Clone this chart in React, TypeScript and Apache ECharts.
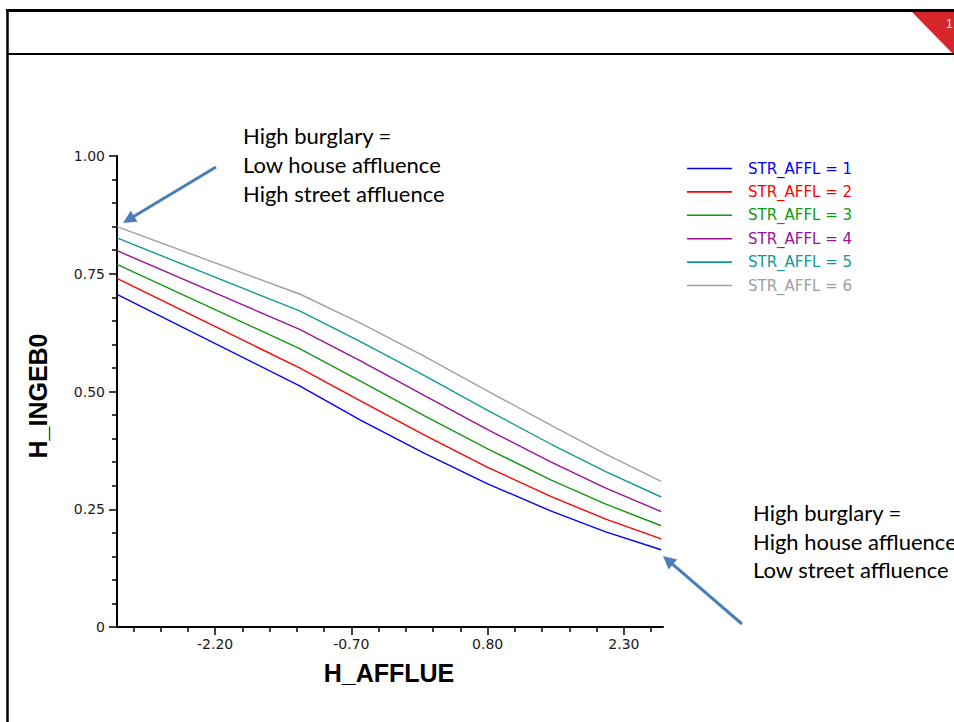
import { useEffect, useRef } from "react";
import * as echarts from "echarts";

// ---- data ----
const xValues = [-3.28, -1.27, -0.6, 0.1, 0.8, 1.5, 2.1, 2.71];
const seriesNames = [
  "STR_AFFL = 1",
  "STR_AFFL = 2",
  "STR_AFFL = 3",
  "STR_AFFL = 4",
  "STR_AFFL = 5",
  "STR_AFFL = 6",
];
const seriesColors = ["#0000FF", "#FF0000", "#119911", "#991199", "#119999", "#A0A0A0"];
const str1 = [0.706, 0.512, 0.439, 0.369, 0.304, 0.246, 0.202, 0.164];
const str2 = [0.74, 0.55, 0.48, 0.408, 0.339, 0.277, 0.229, 0.187];
const str3 = [0.77, 0.591, 0.522, 0.449, 0.378, 0.312, 0.261, 0.215];
const str4 = [0.799, 0.632, 0.565, 0.492, 0.419, 0.35, 0.295, 0.245];
const str5 = [0.826, 0.671, 0.606, 0.534, 0.46, 0.388, 0.33, 0.276];
const str6 = [0.85, 0.707, 0.645, 0.575, 0.501, 0.428, 0.367, 0.309];
const seriesValues = [str1, str2, str3, str4, str5, str6];

const xMin = -3.28;
const xMax = 2.73;
const xMajorTicks = [-2.2, -0.7, 0.8, 2.3];
const xMinorTicks = [
  -3.1, -2.8, -2.5, -1.9, -1.6, -1.3, -1.0, -0.4, -0.1, 0.2, 0.5, 1.1, 1.4, 1.7, 2.0, 2.6,
];
const yTitle = "H_INGEB0";
const xTitle = "H_AFFLUE";
const note1 = ["High burglary =", "Low house affluence", "High street affluence"];
const note2 = ["High burglary =", "High house affluence", "Low street affluence"];

const ARROW = "#4A7EBB";

function arrow(tail: number[], tip: number[]) {
  const dx = tip[0] - tail[0];
  const dy = tip[1] - tail[1];
  const len = Math.sqrt(dx * dx + dy * dy);
  const ux = dx / len;
  const uy = dy / len;
  const hl = 13;
  const hw = 6.5;
  const bx = tip[0] - ux * hl;
  const by = tip[1] - uy * hl;
  return [
    {
      type: "line",
      shape: { x1: tail[0], y1: tail[1], x2: bx + ux * 2, y2: by + uy * 2 },
      style: { stroke: ARROW, lineWidth: 3 },
      z: 10,
    },
    {
      type: "polygon",
      shape: {
        points: [
          [tip[0], tip[1]],
          [bx - uy * hw, by + ux * hw],
          [bx + uy * hw, by - ux * hw],
        ],
      },
      style: { fill: ARROW },
      z: 10,
    },
  ];
}

function noteTexts(lines: string[], x: number, y0: number, gap: number) {
  return lines.map((t, i) => ({
    type: "text",
    x,
    y: y0 + i * gap,
    style: {
      text: t,
      fill: "#000",
      font: "22px Lato",
      textAlign: "left",
      textVerticalAlign: "middle",
    },
    z: 10,
  }));
}

export default function App() {
  const ref = useRef<HTMLDivElement>(null);
  useEffect(() => {
    if (!ref.current) return;
    const chart = echarts.init(ref.current, undefined, { renderer: "svg" });
    const tickFont = { fontFamily: "DejaVu Sans", fontSize: 14, color: "#1a1a1a" };
    chart.setOption({
      animation: false,
      backgroundColor: "#fff",
      grid: { left: 117, top: 156, width: 546, height: 471, containLabel: false },
      legend: {
        orient: "vertical",
        left: 687,
        top: 161,
        padding: 0,
        icon: "rect",
        itemWidth: 45,
        itemHeight: 1.6,
        itemGap: 8.4,
        selectedMode: false,
        data: seriesNames.map((n, i) => ({
          name: n,
          icon: "rect",
          textStyle: { color: seriesColors[i] },
        })),
        textStyle: {
          fontFamily: "DejaVu Sans",
          fontSize: 15,
          lineHeight: 14,
          padding: [0, 0, 0, 11],
        },
      },
      xAxis: [
        {
          type: "value",
          min: xMin,
          max: xMax,
          position: "bottom",
          axisLine: { show: true, onZero: false, lineStyle: { color: "#000", width: 2 } },
          axisTick: {
            show: true,
            length: 8,
            customValues: xMajorTicks,
            lineStyle: { color: "#000", width: 1.5 },
          },
          axisLabel: {
            ...tickFont,
            margin: 10,
            customValues: xMajorTicks,
            formatter: (v: number) => v.toFixed(2),
          },
          splitLine: { show: false },
        },
        {
          type: "value",
          min: xMin,
          max: xMax,
          position: "bottom",
          axisLine: { show: false },
          axisTick: {
            show: true,
            length: 5,
            customValues: xMinorTicks,
            lineStyle: { color: "#000", width: 1.5 },
          },
          axisLabel: { show: false },
          splitLine: { show: false },
        },
      ],
      yAxis: {
        type: "value",
        min: 0,
        max: 1,
        interval: 0.25,
        axisLine: { show: true, onZero: false, lineStyle: { color: "#000", width: 2 } },
        axisTick: { show: true, length: 8, lineStyle: { color: "#000", width: 1.5 } },
        minorTick: {
          show: true,
          splitNumber: 5,
          length: 5,
          lineStyle: { color: "#000", width: 1.5 },
        },
        axisLabel: {
          ...tickFont,
          margin: 12,
          formatter: (v: number) => (v === 0 ? "0" : v.toFixed(2)),
        },
        splitLine: { show: false },
      },
      series: seriesValues.map((vals, i) => ({
        name: seriesNames[i],
        type: "line",
        xAxisIndex: 0,
        symbol: "none",
        showSymbol: false,
        color: seriesColors[i],
        lineStyle: { color: seriesColors[i], width: 1.4 },
        data: vals.map((v, j) => [xValues[j], v]),
      })),
      graphic: [
        {
          type: "polygon",
          shape: { points: [[911, 11], [954, 11], [954, 55]] },
          style: { fill: "#D7262B" },
        },
        {
          type: "text",
          x: 946,
          y: 23.5,
          style: {
            text: "1",
            fill: "#fff",
            font: "12px 'Liberation Sans'",
            textAlign: "left",
            textVerticalAlign: "middle",
          },
        },
        {
          type: "line",
          shape: { x1: 7.5, y1: 9, x2: 7.5, y2: 722 },
          style: { stroke: "#000", lineWidth: 2.5 },
        },
        {
          type: "line",
          shape: { x1: 6, y1: 10.5, x2: 954, y2: 10.5 },
          style: { stroke: "#000", lineWidth: 3 },
        },
        {
          type: "line",
          shape: { x1: 7, y1: 54, x2: 954, y2: 54 },
          style: { stroke: "#000", lineWidth: 2 },
        },
        {
          type: "text",
          x: 38,
          y: 396,
          rotation: Math.PI / 2,
          style: {
            text: yTitle,
            fill: "#000",
            font: "bold 25px 'Liberation Sans'",
            textAlign: "center",
            textVerticalAlign: "middle",
          },
        },
        {
          type: "text",
          x: 389,
          y: 673,
          style: {
            text: xTitle,
            fill: "#000",
            font: "bold 25px 'Liberation Sans'",
            textAlign: "center",
            textVerticalAlign: "middle",
          },
        },
        ...noteTexts(note1, 243, 135, 29),
        ...noteTexts(note2, 753, 512.5, 28.5),
        ...arrow([216, 167], [123, 223]),
        ...arrow([742, 624], [663, 556]),
      ],
    });
    return () => chart.dispose();
  }, []);
  return (
    <div
      ref={ref}
      style={{ position: "fixed", left: 0, top: 0, width: 954, height: 722 }}
    />
  );
}
